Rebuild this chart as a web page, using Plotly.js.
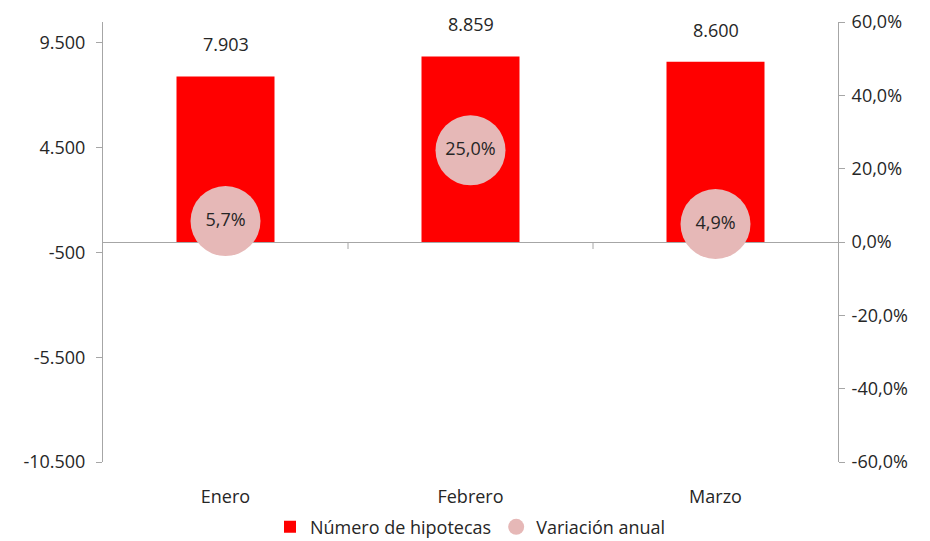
<!DOCTYPE html>
<html>
<head>
<meta charset="utf-8">
<script src="https://cdn.plot.ly/plotly-3.0.1.min.js"></script>
<style>
  html, body { margin: 0; padding: 0; background: #fff; }
  #graph { width: 930px; height: 541px; }
</style>
</head>
<body>
<div id="graph"></div>
<script>
const meses = ['Enero', 'Febrero', 'Marzo'];
const hipotecas = [7903, 8859, 8600];
const variacion = [5.7, 25.0, 4.9];

const leftTickVals = [9500, 4500, -500, -5500, -10500];
const leftTickText = ['9.500', '4.500', '-500', '-5.500', '-10.500'];
const rightTickVals = [60, 40, 20, 0, -20, -40, -60];
const rightTickText = ['60,0%', '40,0%', '20,0%', '0,0%', '-20,0%', '-40,0%', '-60,0%'];

document.addEventListener('DOMContentLoaded', function() {
    const fontFam = 'Open Sans, Noto Sans, sans-serif';
    const txtColor = '#262626';
    const axisColor = '#a6a6a6';

    const fmtMiles = v => String(v).replace(/\B(?=(\d{3})+(?!\d))/g, '.');
    const fmtPct = v => v.toFixed(1).replace('.', ',') + '%';

    const barras = {
        type: 'bar',
        name: 'Número de hipotecas',
        x: meses,
        y: hipotecas,
        width: 0.4,
        marker: { color: '#ff0000' },
        hoverinfo: 'x+y'
    };

    const puntos = {
        type: 'scatter',
        mode: 'markers+text',
        name: 'Variación anual',
        x: meses,
        y: variacion,
        yaxis: 'y2',
        marker: { size: 70, color: '#e6b8b7' },
        text: variacion.map(fmtPct),
        textposition: 'middle center',
        textfont: { family: fontFam, size: 18, color: txtColor },
        cliponaxis: false
    };

    const etiquetas = meses.map((m, i) => ({
        x: m,
        y: hipotecas[i],
        xref: 'x',
        yref: 'y',
        text: fmtMiles(hipotecas[i]),
        showarrow: false,
        yanchor: 'bottom',
        yshift: 18,
        font: { family: fontFam, size: 18, color: txtColor }
    }));

    // small tick marks on the zero line, between categories
    const marcas = [0.5, 1.5].map(xv => ({
        type: 'line',
        xref: 'x',
        yref: 'y',
        x0: xv, x1: xv,
        ysizemode: 'pixel',
        yanchor: 0,
        y0: 0, y1: -7,
        line: { color: axisColor, width: 1 }
    }));

    const layout = {
        width: 930,
        height: 541,
        margin: { l: 103, r: 92, t: 22, b: 79, autoexpand: false },
        paper_bgcolor: '#fff',
        plot_bgcolor: '#fff',
        font: { family: fontFam, size: 18, color: txtColor },
        showlegend: true,
        legend: {
            orientation: 'h',
            x: 0.5, xanchor: 'center',
            y: -0.148, yanchor: 'middle',
            font: { family: fontFam, size: 18, color: txtColor },
            itemwidth: 20
        },
        xaxis: {
            type: 'category',
            range: [-0.5, 2.5],
            showline: false,
            showgrid: false,
            zeroline: false,
            ticks: '',
            ticklabelstandoff: 22,
            tickfont: { family: fontFam, size: 18, color: txtColor }
        },
        yaxis: {
            range: [-10500, 10500],
            tickvals: leftTickVals,
            ticktext: leftTickText,
            showgrid: false,
            zeroline: true,
            zerolinecolor: axisColor,
            zerolinewidth: 1,
            showline: true,
            linecolor: axisColor,
            linewidth: 1,
            ticks: 'outside',
            ticklen: 6,
            tickcolor: axisColor,
            ticklabelstandoff: 7,
            tickfont: { family: fontFam, size: 18, color: txtColor }
        },
        yaxis2: {
            overlaying: 'y',
            side: 'right',
            range: [-60, 60],
            tickvals: rightTickVals,
            ticktext: rightTickText,
            showgrid: false,
            zeroline: false,
            showline: true,
            linecolor: axisColor,
            linewidth: 1,
            ticks: 'outside',
            ticklen: 6,
            tickcolor: axisColor,
            ticklabelstandoff: 3,
            tickfont: { family: fontFam, size: 18, color: txtColor }
        },
        annotations: etiquetas,
        shapes: marcas
    };

    Plotly.newPlot('graph', [barras, puntos], layout, { displayModeBar: false, responsive: false });
});
</script>
</body>
</html>
